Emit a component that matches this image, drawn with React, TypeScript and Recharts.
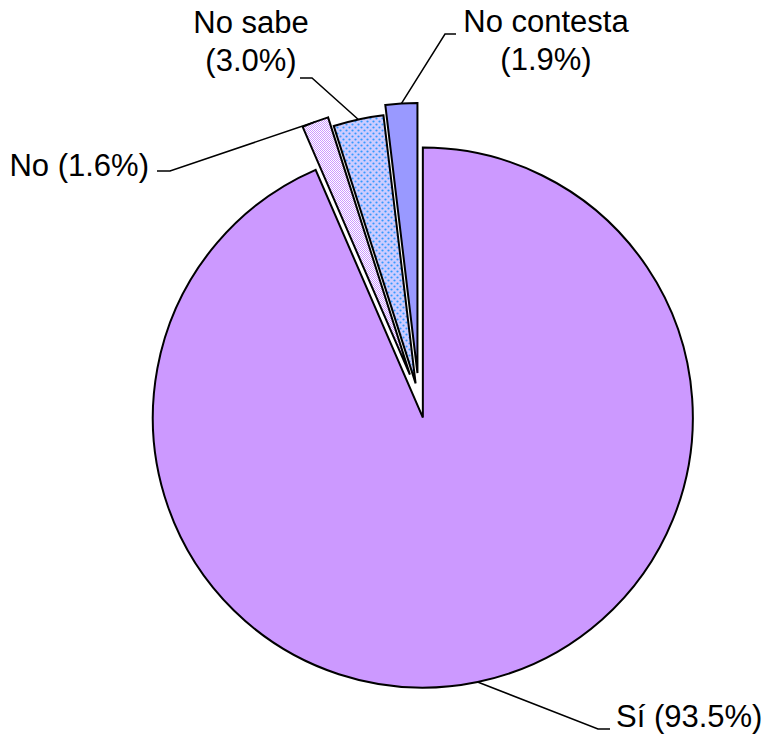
import React from 'react';
import { PieChart, Pie, Cell } from 'recharts';

// --- data ---
const CATEGORIES = ['Sí', 'No', 'No sabe', 'No contesta'];
const PERCENTS = [93.5, 1.6, 3.0, 1.9];
const TWO_LINE = [false, false, true, true];

// --- layout / style ---
const W = 762;
const H = 738;
const CX = 419;
const CY = 399;
const R = 270;
const EXPLODE = [19, 26, 16, 26];
const FILLS = ['#cc99ff', 'url(#patNo)', 'url(#patNoSabe)', '#9999ff'];
const FONT = '"Liberation Sans", Arial, sans-serif';
const FONT_SIZE = 31;
const LINE_GAP = 38;

// text anchor, leader elbow and leader tail for each label
const LABEL_POS: { x: number; y: number; anchor: 'start' | 'middle' | 'end'; elbow: number[]; tail: number[] }[] = [
  { x: 616, y: 727, anchor: 'start', elbow: [598, 729], tail: [610, 729] },
  { x: 149, y: 176, anchor: 'end', elbow: [170, 171], tail: [157, 171] },
  { x: 251, y: 33, anchor: 'middle', elbow: [312, 78], tail: [300, 78] },
  { x: 546, y: 32, anchor: 'middle', elbow: [445, 34], tail: [456, 34] },
];

const RAD = Math.PI / 180;
const data = CATEGORIES.map((name, i) => ({ name, value: PERCENTS[i] }));
const total = PERCENTS.reduce((a, b) => a + b, 0);

// mid angle of each slice, recharts convention (ccw from 3 o'clock), start at 12, clockwise
const midAngles = PERCENTS.map((v, i) => {
  const before = PERCENTS.slice(0, i).reduce((a, b) => a + b, 0);
  return 90 - (360 * (before + v / 2)) / total;
});

const labelText = (i: number) => {
  const pct = `(${PERCENTS[i].toFixed(1)}%)`;
  return TWO_LINE[i] ? [CATEGORIES[i], pct] : [`${CATEGORIES[i]} ${pct}`];
};

const makeLabel = (own: number) => (props: any) => {
  if (props.index !== own) return null;
  const mid = props.midAngle ?? midAngles[own];
  const r = props.outerRadius ?? R;
  const px = props.cx + r * Math.cos(-mid * RAD);
  const py = props.cy + r * Math.sin(-mid * RAD);
  const p = LABEL_POS[own];
  const lines = labelText(own);
  return (
    <g key={`lab-${own}`}>
      <polyline
        points={`${px},${py} ${p.elbow[0]},${p.elbow[1]} ${p.tail[0]},${p.tail[1]}`}
        fill="none"
        stroke="#000"
        strokeWidth={1.5}
      />
      <text x={p.x} y={p.y} textAnchor={p.anchor} fontFamily={FONT} fontSize={FONT_SIZE} fill="#000">
        {lines.map((l, k) => (
          <tspan key={k} x={p.x} y={p.y + k * LINE_GAP}>
            {l}
          </tspan>
        ))}
      </text>
    </g>
  );
};

export default function App() {
  return (
    <div style={{ position: 'absolute', left: 0, top: 0, width: W, height: H, background: '#fff' }}>
      <svg width={0} height={0} style={{ position: 'absolute' }}>
        <defs>
          <pattern id="patNo" width={2} height={2} patternUnits="userSpaceOnUse">
            <rect width={2} height={2} fill="#ffffff" />
            <rect x={0} y={0} width={1} height={1} fill="#cc99ff" />
            <rect x={1} y={1} width={1} height={1} fill="#cc99ff" />
          </pattern>
          <pattern id="patNoSabe" width={6} height={6} patternUnits="userSpaceOnUse">
            <rect width={6} height={6} fill="#ccccff" />
            <circle cx={1.5} cy={1.5} r={1.1} fill="#3399ff" />
            <circle cx={4.5} cy={4.5} r={1.1} fill="#3399ff" />
          </pattern>
        </defs>
      </svg>
      <PieChart width={W} height={H} margin={{ top: 0, right: 0, bottom: 0, left: 0 }}>
        {data.map((_, own) => {
          const e = EXPLODE[own];
          const cx = CX + e * Math.cos(-midAngles[own] * RAD);
          const cy = CY + e * Math.sin(-midAngles[own] * RAD);
          return (
            <Pie
              key={own}
              data={data}
              dataKey="value"
              nameKey="name"
              cx={cx}
              cy={cy}
              innerRadius={0}
              outerRadius={R}
              startAngle={90}
              endAngle={-270}
              paddingAngle={0}
              isAnimationActive={false}
              labelLine={false}
              label={makeLabel(own)}
            >
              {data.map((d, i) => (
                <Cell
                  key={`c-${own}-${i}`}
                  fill={i === own ? FILLS[i] : 'none'}
                  stroke={i === own ? '#000' : 'none'}
                  strokeWidth={2}
                />
              ))}
            </Pie>
          );
        })}
      </PieChart>
    </div>
  );
}
